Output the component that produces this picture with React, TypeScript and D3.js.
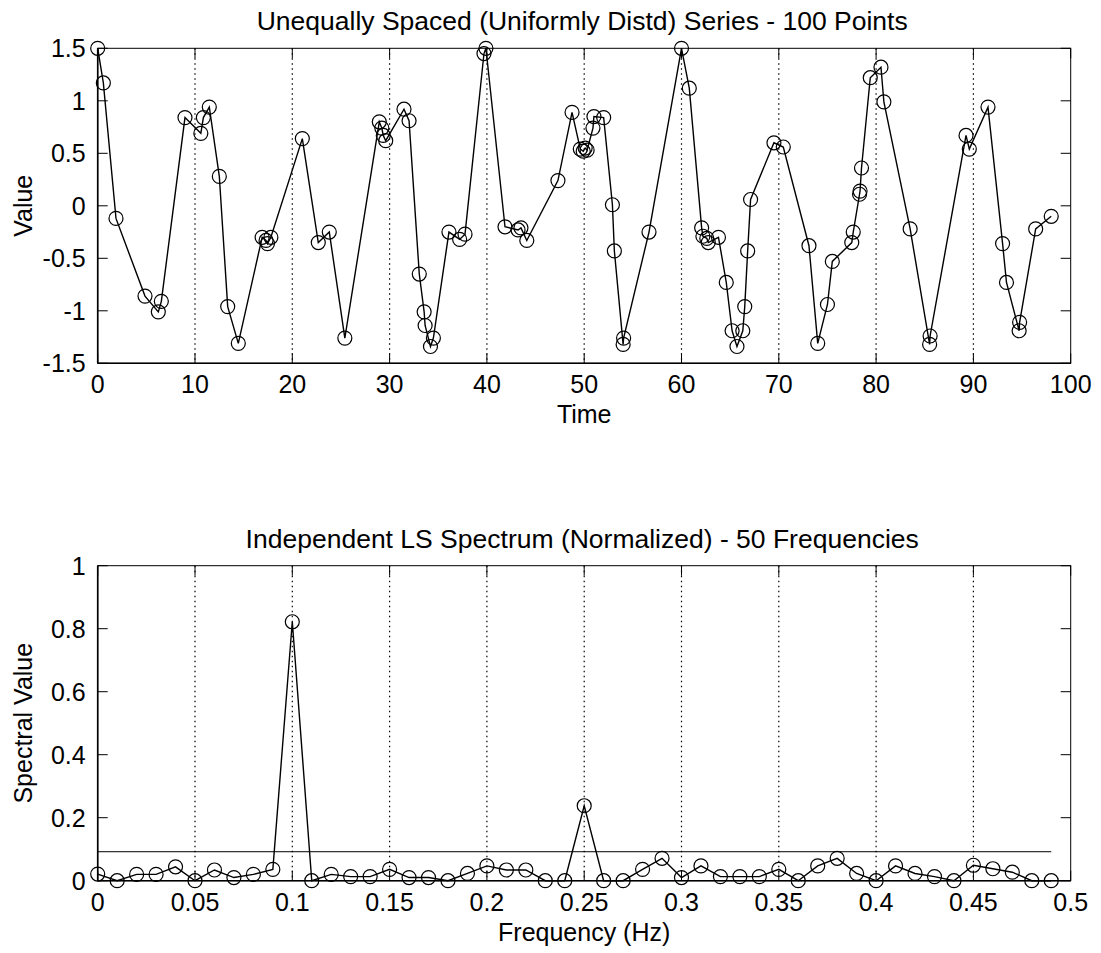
import React from "react";
import * as d3 from "d3";

const timeX = [0, 0.58, 1.88, 4.86, 6.23, 6.54, 8.97, 10.6, 10.86, 11.47, 12.5, 13.36, 14.45, 16.9, 17.3, 17.45, 17.8, 21.03, 22.67, 23.8, 25.4, 28.94, 29.2, 29.35, 29.6, 31.48, 32.0, 33.05, 33.55, 33.65, 34.2, 34.5, 36.1, 37.2, 37.75, 39.7, 39.9, 41.86, 43.2, 43.5, 44.1, 47.3, 48.75, 49.6, 49.9, 50.1, 50.3, 50.9, 51.0, 52.0, 52.9, 53.1, 54.0, 54.05, 56.66, 60.0, 60.8, 62.07, 62.2, 62.6, 62.75, 63.8, 64.6, 65.2, 65.7, 66.3, 66.5, 66.8, 67.1, 69.5, 70.46, 73.1, 74.0, 75.0, 75.5, 77.5, 77.65, 78.3, 78.35, 78.5, 79.4, 80.5, 80.8, 83.5, 85.5, 85.55, 89.24, 89.58, 91.5, 93.0, 93.4, 94.7, 94.75, 96.4, 98.0];
const timeY = [1.5, 1.17, -0.12, -0.86, -1.01, -0.91, 0.84, 0.69, 0.84, 0.94, 0.28, -0.96, -1.31, -0.3, -0.33, -0.36, -0.3, 0.64, -0.35, -0.25, -1.26, 0.8, 0.74, 0.67, 0.62, 0.92, 0.81, -0.65, -1.01, -1.14, -1.34, -1.26, -0.25, -0.32, -0.27, 1.45, 1.5, -0.2, -0.23, -0.21, -0.33, 0.24, 0.89, 0.54, 0.52, 0.55, 0.53, 0.74, 0.85, 0.84, 0.01, -0.43, -1.32, -1.26, -0.25, 1.5, 1.12, -0.21, -0.29, -0.31, -0.35, -0.3, -0.73, -1.19, -1.34, -1.19, -0.96, -0.43, 0.06, 0.6, 0.56, -0.38, -1.31, -0.94, -0.53, -0.35, -0.25, 0.11, 0.14, 0.36, 1.22, 1.32, 0.99, -0.22, -1.32, -1.24, 0.67, 0.54, 0.94, -0.36, -0.73, -1.19, -1.11, -0.22, -0.1];

const freqs = [0, 0.01, 0.02, 0.03, 0.04, 0.05, 0.06, 0.07, 0.08, 0.09, 0.1, 0.11, 0.12, 0.13, 0.14, 0.15, 0.16, 0.17, 0.18, 0.19, 0.2, 0.21, 0.22, 0.23, 0.24, 0.25, 0.26, 0.27, 0.28, 0.29, 0.3, 0.31, 0.32, 0.33, 0.34, 0.35, 0.36, 0.37, 0.38, 0.39, 0.4, 0.41, 0.42, 0.43, 0.44, 0.45, 0.46, 0.47, 0.48, 0.49];
const spectrum = [0.021, 0, 0.02, 0.02, 0.044, 0, 0.034, 0.01, 0.02, 0.036, 0.822, 0, 0.02, 0.013, 0.013, 0.036, 0.01, 0.01, 0, 0.023, 0.047, 0.034, 0.034, 0, 0, 0.238, 0, 0, 0.036, 0.071, 0.01, 0.047, 0.013, 0.013, 0.013, 0.036, 0, 0.047, 0.071, 0.023, 0, 0.047, 0.023, 0.013, 0, 0.049, 0.038, 0.027, 0, 0];
const threshold = 0.092;

const timeTicksX = [0, 10, 20, 30, 40, 50, 60, 70, 80, 90, 100];
const timeTicksY = [-1.5, -1, -0.5, 0, 0.5, 1, 1.5];
const freqTicksX = [0, 0.05, 0.1, 0.15, 0.2, 0.25, 0.3, 0.35, 0.4, 0.45, 0.5];
const freqTicksY = [0, 0.2, 0.4, 0.6, 0.8, 1];

const FONT = "Liberation Sans, Arial, Helvetica, sans-serif";
const FS = 25;
const TITLE_FS = 26.5;

type PanelProps = {
  top: number;
  bottom: number;
  xs: number[];
  ys: number[];
  xDomain: [number, number];
  yDomain: [number, number];
  xTicks: number[];
  yTicks: number[];
  title: string;
  xLabel: string;
  yLabel: string;
  thresh?: number;
  threshEnd?: number;
};

function Panel(p: PanelProps) {
  const left = 97.7;
  const right = 1070.7;
  const x = d3.scaleLinear().domain(p.xDomain).range([left, right]);
  const y = d3.scaleLinear().domain(p.yDomain).range([p.bottom, p.top]);
  const line = d3
    .line<number>()
    .x((_, i) => x(p.xs[i]))
    .y((d) => y(d));
  const fmt = (v: number) => String(+v.toFixed(2));
  const tl = 10;
  const cx = (left + right) / 2;
  return (
    <g>
      {p.xTicks.slice(1, -1).map((t) => (
        <line key={"g" + t} x1={x(t)} x2={x(t)} y1={p.top} y2={p.bottom} stroke="#000" strokeWidth={1.2} strokeDasharray="1.5,3.5" />
      ))}
      {p.xTicks.map((t) => (
        <g key={"xt" + t}>
          <line x1={x(t)} x2={x(t)} y1={p.bottom} y2={p.bottom - tl} stroke="#000" />
          <line x1={x(t)} x2={x(t)} y1={p.top} y2={p.top + tl} stroke="#000" />
          <text x={x(t)} y={p.bottom + 30} textAnchor="middle" fontSize={FS} fontFamily={FONT}>
            {fmt(t)}
          </text>
        </g>
      ))}
      {p.yTicks.map((t) => (
        <g key={"yt" + t}>
          <line x1={left} x2={left + tl} y1={y(t)} y2={y(t)} stroke="#000" />
          <line x1={right} x2={right - tl} y1={y(t)} y2={y(t)} stroke="#000" />
          <text x={left - 12} y={y(t) + 9} textAnchor="end" fontSize={FS} fontFamily={FONT}>
            {fmt(t)}
          </text>
        </g>
      ))}
      <rect x={left} y={p.top} width={right - left} height={p.bottom - p.top} fill="none" stroke="#000" strokeWidth={1} />
      <line x1={left} x2={left} y1={p.top} y2={p.bottom} stroke="#000" strokeWidth={1.6} />
      <line x1={left} x2={right} y1={p.bottom} y2={p.bottom} stroke="#000" strokeWidth={1.6} />
      {p.thresh !== undefined && (
        <line x1={x(p.xDomain[0])} x2={x(p.threshEnd ?? p.xDomain[1])} y1={y(p.thresh)} y2={y(p.thresh)} stroke="#000" strokeWidth={1} />
      )}
      <path d={line(p.ys) ?? ""} fill="none" stroke="#000" strokeWidth={1.4} />
      {p.ys.map((v, i) => (
        <circle key={"c" + i} cx={x(p.xs[i])} cy={y(v)} r={7} fill="none" stroke="#000" strokeWidth={1.2} />
      ))}
      <text x={cx - 2} y={p.top - 18} textAnchor="middle" fontSize={TITLE_FS} fontFamily={FONT}>
        {p.title}
      </text>
      <text x={cx} y={p.bottom + 60} textAnchor="middle" fontSize={FS} fontFamily={FONT}>
        {p.xLabel}
      </text>
      <text
        transform={`translate(32,${(p.top + p.bottom) / 2}) rotate(-90)`}
        textAnchor="middle"
        fontSize={FS}
        fontFamily={FONT}
      >
        {p.yLabel}
      </text>
    </g>
  );
}

export default function App() {
  return (
    <svg width={1101} height={953} style={{ position: "absolute", left: 0, top: 0, background: "#fff" }}>
      <rect width={1101} height={953} fill="#fff" />
      <Panel
        top={48.3}
        bottom={363.3}
        xs={timeX}
        ys={timeY}
        xDomain={[0, 100]}
        yDomain={[-1.5, 1.5]}
        xTicks={timeTicksX}
        yTicks={timeTicksY}
        title="Unequally Spaced (Uniformly Distd) Series - 100 Points"
        xLabel="Time"
        yLabel="Value"
      />
      <Panel
        top={565.7}
        bottom={880.7}
        xs={freqs}
        ys={spectrum}
        xDomain={[0, 0.5]}
        yDomain={[0, 1]}
        xTicks={freqTicksX}
        yTicks={freqTicksY}
        title="Independent LS Spectrum (Normalized) - 50 Frequencies"
        xLabel="Frequency (Hz)"
        yLabel="Spectral Value"
        thresh={threshold}
        threshEnd={0.49}
      />
    </svg>
  );
}
